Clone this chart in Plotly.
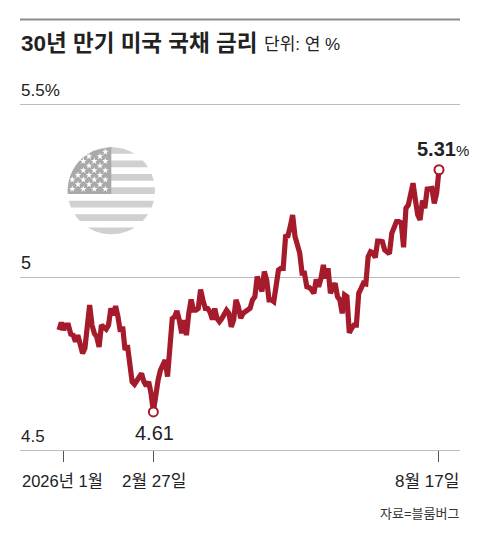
import math
import pandas as pd
import plotly.graph_objects as go

# 30-year US treasury yield (one value per business day)
yields = [4.847, 4.868, 4.847, 4.861, 4.861, 4.835, 4.832, 4.813, 4.832, 4.803,
          4.779, 4.794, 4.847, 4.919, 4.861, 4.837, 4.827, 4.798, 4.861, 4.856,
          4.849, 4.861, 4.909, 4.890, 4.916, 4.885, 4.842, 4.856, 4.789, 4.803,
          4.731, 4.697, 4.690, 4.702, 4.707, 4.721, 4.697, 4.685, 4.697, 4.664,
          4.61, 4.664, 4.702, 4.731, 4.750, 4.760, 4.712, 4.798, 4.880, 4.885,
          4.902, 4.875, 4.837, 4.875, 4.832, 4.895, 4.935, 4.904, 4.904, 4.909,
          4.964, 4.933, 4.909, 4.909, 4.899, 4.877, 4.909, 4.880, 4.871, 4.880,
          4.890, 4.904, 4.895, 4.856, 4.876, 4.934, 4.914, 4.881, 4.895, 4.900,
          4.907, 4.910, 4.934, 4.943, 5.001, 4.982, 4.958, 5.016, 4.991, 4.934,
          4.934, 4.929, 4.972, 5.020, 5.025, 5.025, 5.117, 5.119, 5.146, 5.179,
          5.117, 5.093, 5.069, 5.011, 5.011, 4.972, 4.970, 4.963, 4.953, 4.993,
          4.972, 4.996, 5.035, 4.996, 5.025, 4.953, 4.972, 4.982, 4.943, 4.934,
          4.895, 4.948, 4.943, 4.839, 4.852, 4.861, 4.861, 4.953, 4.967, 4.982,
          4.980, 5.059, 5.073, 5.070, 5.056, 5.104, 5.104, 5.102, 5.078, 5.073,
          5.067, 5.126, 5.141, 5.160, 5.160, 5.157, 5.086, 5.199, 5.208, 5.242,
          5.271, 5.223, 5.179, 5.165, 5.221, 5.199, 5.254, 5.255, 5.256, 5.213,
          5.242, 5.31]
dates = [d.strftime('%Y-%m-%d') for d in pd.bdate_range('2026-01-02', '2026-08-17')]

y_ticks = [4.5, 5, 5.5]
x_ticks = ['2026-01-06', '2026-02-27', '2026-08-17']

RED = '#a51b2b'
TEXT = '#222222'
FONT = 'Liberation Sans, Noto Sans CJK KR, sans-serif'

fig = go.Figure()

# flag badge: everything here is in page pixels through x2/y2
cx, cy, r = 111.3, 190.7, 43.6
stripe_h = 2 * r / 13


def band(y0, y1, x_max=None):
    # part of the circle between y0 and y1, cut on the right at x_max
    pts = []
    steps = 12
    for i in range(steps + 1):
        y = y0 + (y1 - y0) * i / steps
        pts.append((cx - math.sqrt(max(r * r - (y - cy) ** 2, 0)), y))
    for i in range(steps + 1):
        y = y1 - (y1 - y0) * i / steps
        x = cx + math.sqrt(max(r * r - (y - cy) ** 2, 0))
        if x_max is not None:
            x = min(x, x_max)
        pts.append((x, y))
    return 'M' + 'L'.join(f'{x:.2f},{y:.2f}' for x, y in pts) + 'Z'


shapes = []
for i in range(0, 13, 2):
    top = cy - r + i * stripe_h
    shapes.append(dict(type='path', xref='x2', yref='y2', path=band(top, top + stripe_h),
                       fillcolor='#d0d0d0', line_width=0, layer='below'))
canton_bottom = cy - r + 7 * stripe_h
shapes.append(dict(type='path', xref='x2', yref='y2', path=band(cy - r, canton_bottom, cx),
                   fillcolor='#a9a9a9', line_width=0, layer='below'))

star_x, star_y = [], []
for row in range(9):
    y = 189 - row * 4.65
    start = 72.3 if row % 2 == 0 else 78
    for col in range(4):
        x = start + col * 11
        if math.hypot(x - cx, y - cy) < r - 2 and x < 109:
            star_x.append(x)
            star_y.append(y)

fig.add_trace(go.Scatter(x=star_x, y=star_y, xaxis='x2', yaxis='y2', mode='markers',
                         marker=dict(symbol='star', size=5, color='white', line_width=0),
                         hoverinfo='skip', showlegend=False))

fig.add_trace(go.Scatter(x=dates, y=yields, mode='lines',
                         line=dict(color=RED, width=5.2), showlegend=False))
# low and latest markers
ends = [dates[40], dates[-1]]
fig.add_trace(go.Scatter(x=ends, y=[yields[40], yields[-1]], mode='markers',
                         marker=dict(size=9, color='white', line=dict(color=RED, width=2)),
                         showlegend=False))

shapes.append(dict(type='line', xref='x2', yref='y2', x0=20, x1=460, y0=19.5, y1=19.5,
                   line=dict(color='#8c8c8c', width=2)))


def label(x, y, text, size, anchor='left', color=TEXT):
    return dict(x=x, y=y, xref='x2', yref='y2', text=text, showarrow=False, xanchor=anchor,
                yanchor='middle', font=dict(family=FONT, size=size, color=color),
                xshift=-1 if anchor == 'left' else 0)


annotations = [
    label(20, 43, '<b>30년 만기 미국 국채 금리</b>', 22.5),
    label(263, 44, '단위: 연 %', 17),
    label(20, 90, '5.5%', 17),
    label(20, 263, '5', 18),
    label(20, 436, '4.5', 17),
    label(154, 433, f'{yields[40]:.2f}', 20, 'center'),
    label(471, 149, f'<b>{yields[-1]:.2f}</b><span style="font-size:15px">%</span>', 20, 'right'),
    label(62.5, 481, '2026년 1월', 16.5, 'center'),
    label(153.5, 481, '2월 27일', 17, 'center'),
    label(461, 481, '8월 17일', 17, 'right'),
    label(461, 513, '자료=블룸버그', 13, 'right', '#333333'),
]

fig.update_layout(
    width=480, height=540,
    margin=dict(l=0, r=0, t=0, b=0),
    paper_bgcolor='white', plot_bgcolor='rgba(0,0,0,0)',
    showlegend=False,
    shapes=shapes, annotations=annotations,
    xaxis=dict(type='category', domain=[20 / 480, 460 / 480], range=[-16.5, 169.9],
               tickvals=x_ticks, ticktext=['', '', ''], ticks='outside', ticklen=11,
               tickwidth=1, tickcolor='#555555', showgrid=False, zeroline=False,
               showline=True, linecolor='#bbbbbb', linewidth=1),
    yaxis=dict(domain=[90 / 540, 1], range=[4.5, 4.5 + 450 / 346], tickvals=y_ticks,
               showticklabels=False, showgrid=True, gridcolor='#bbbbbb', gridwidth=1,
               zeroline=False, showline=False),
    xaxis2=dict(domain=[0, 1], range=[0, 480], visible=False, anchor='y2'),
    yaxis2=dict(domain=[0, 1], range=[540, 0], visible=False, anchor='x2'),
)

fig.write_html("out.html", config={'displayModeBar': False},
               post_script="document.body.style.margin='0';")
